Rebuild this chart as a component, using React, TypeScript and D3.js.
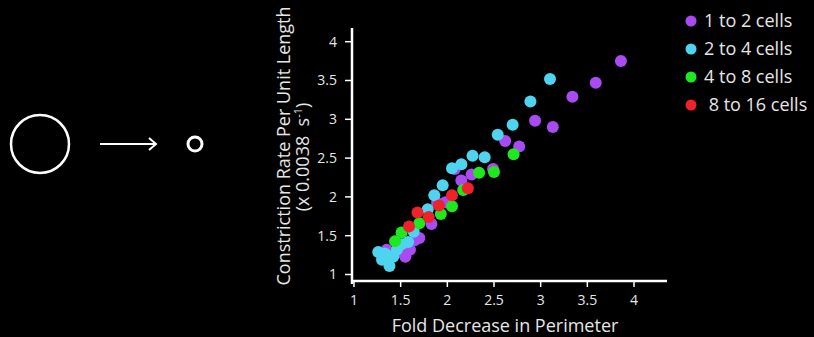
import React, { useRef, useEffect } from 'react';
import * as d3 from 'd3';

// series values: [fold decrease, constriction rate]
const oneToTwo: [number, number][] = [
  [3.86, 3.75], [3.59, 3.47], [3.34, 3.29], [2.94, 2.98], [3.13, 2.9],
  [2.62, 2.72], [2.77, 2.65], [2.49, 2.36], [2.26, 2.29], [2.08, 2.36],
  [2.15, 2.21], [1.98, 1.93], [1.89, 1.92], [1.83, 1.65], [1.7, 1.47],
  [1.65, 1.44], [1.6, 1.32], [1.55, 1.23], [1.48, 1.29], [1.35, 1.32],
];
const twoToFour: [number, number][] = [
  [3.1, 3.52], [2.89, 3.23], [2.7, 2.93], [2.54, 2.8], [2.27, 2.53],
  [2.4, 2.51], [2.15, 2.42], [2.05, 2.37], [1.95, 2.15], [1.86, 2.02],
  [1.79, 1.84], [1.64, 1.55], [1.58, 1.42], [1.51, 1.39], [1.46, 1.32],
  [1.26, 1.29], [1.37, 1.24], [1.3, 1.19], [1.38, 1.11], [1.42, 1.23],
  [1.33, 1.27],
];
const fourToEight: [number, number][] = [
  [2.71, 2.55], [2.5, 2.32], [2.34, 2.31], [2.17, 2.09], [2.05, 1.88],
  [1.93, 1.78], [1.7, 1.66], [1.51, 1.54], [1.44, 1.43],
];
const eightToSixteen: [number, number][] = [
  [2.22, 2.11], [2.05, 2.02], [1.91, 1.89], [1.68, 1.8], [1.8, 1.74], [1.59, 1.62],
];

const seriesNames = ['1 to 2 cells', '2 to 4 cells', '4 to 8 cells', ' 8 to 16 cells'];
const seriesColors = ['#a94af2', '#4fd4f0', '#1ee81e', '#ee2229'];
const seriesData = [oneToTwo, twoToFour, fourToEight, eightToSixteen];

const xTicks = [1, 1.5, 2, 2.5, 3, 3.5, 4];
const yTicks = [1, 1.5, 2, 2.5, 3, 3.5, 4];

const FONT = '"Open Sans", sans-serif';

function App() {
  const ref = useRef<SVGSVGElement>(null);

  useEffect(() => {
    const svg = d3.select(ref.current);
    svg.selectAll('*').remove();

    svg.append('rect').attr('width', 814).attr('height', 337).attr('fill', '#000');

    // left diagram: big circle -> small circle
    const diag = svg.append('g').attr('stroke', '#fff').attr('fill', 'none');
    diag.append('circle').attr('cx', 40).attr('cy', 144).attr('r', 29).attr('stroke-width', 2.5);
    diag.append('line').attr('x1', 100).attr('y1', 144).attr('x2', 156).attr('y2', 144).attr('stroke-width', 2);
    diag.append('path').attr('d', 'M149,138 L156,144 L149,150').attr('stroke-width', 2);
    diag.append('circle').attr('cx', 195).attr('cy', 144).attr('r', 7).attr('stroke-width', 3);

    const x = d3.scaleLinear().domain([1, 4]).range([354, 634]);
    const y = d3.scaleLinear().domain([1, 4]).range([274.5, 41.7]);

    // axes
    const axisY0 = 281;
    svg.append('line').attr('x1', 352).attr('x2', 667).attr('y1', axisY0).attr('y2', axisY0)
      .attr('stroke', '#fff').attr('stroke-width', 2.5);
    svg.append('line').attr('x1', 352).attr('x2', 352).attr('y1', 28).attr('y2', 284)
      .attr('stroke', '#fff').attr('stroke-width', 2.5);

    const xg = svg.append('g');
    xg.selectAll('line').data(xTicks).enter().append('line')
      .attr('x1', d => x(d)).attr('x2', d => x(d)).attr('y1', axisY0).attr('y2', axisY0 + 6)
      .attr('stroke', '#fff').attr('stroke-width', 1.5);
    xg.selectAll('text').data(xTicks).enter().append('text')
      .attr('x', d => x(d)).attr('y', 305)
      .attr('text-anchor', 'middle').attr('fill', '#e6e6e6')
      .style('font-family', FONT).style('font-size', '14px')
      .text(d => String(d));

    const yg = svg.append('g');
    yg.selectAll('line').data(yTicks).enter().append('line')
      .attr('x1', 345).attr('x2', 352).attr('y1', d => y(d)).attr('y2', d => y(d))
      .attr('stroke', '#fff').attr('stroke-width', 1.5);
    yg.selectAll('text').data(yTicks).enter().append('text')
      .attr('x', 337).attr('y', d => y(d)).attr('dy', '0.35em')
      .attr('text-anchor', 'end').attr('fill', '#e6e6e6')
      .style('font-family', FONT).style('font-size', '14px')
      .text(d => String(d));

    // axis titles
    svg.append('text')
      .attr('x', 505).attr('y', 332).attr('text-anchor', 'middle').attr('fill', '#e6e6e6')
      .style('font-family', FONT).style('font-size', '18px')
      .text('Fold Decrease in Perimeter');

    svg.append('text')
      .attr('transform', 'translate(284,146) rotate(-90)').attr('dy', '0.35em')
      .attr('text-anchor', 'middle').attr('fill', '#e6e6e6')
      .style('font-family', FONT).style('font-size', '18px')
      .text('Constriction Rate Per Unit Length');

    const sub = svg.append('text')
      .attr('transform', 'translate(303,157) rotate(-90)').attr('dy', '0.35em')
      .attr('text-anchor', 'middle').attr('fill', '#e6e6e6')
      .style('white-space', 'pre')
      .style('font-family', FONT).style('font-size', '18px');
    sub.append('tspan').text('(x 0.0038  s');
    sub.append('tspan').attr('dy', -7).style('font-size', '11px').text('-1');
    sub.append('tspan').attr('dy', 7).text(')');

    // points
    seriesData.forEach((data, i) => {
      svg.append('g').selectAll('circle').data(data).enter().append('circle')
        .attr('cx', d => x(d[0])).attr('cy', d => y(d[1])).attr('r', 6)
        .attr('fill', seriesColors[i]);
    });

    // legend
    const leg = svg.append('g');
    seriesNames.forEach((name, i) => {
      const ly = 21 + i * 28;
      leg.append('circle').attr('cx', 691).attr('cy', ly).attr('r', 5.5).attr('fill', seriesColors[i]);
      leg.append('text').attr('x', 704).attr('y', ly).attr('dy', '0.35em')
        .attr('fill', '#e6e6e6')
        .style('white-space', 'pre')
        .style('font-family', FONT).style('font-size', '18px')
        .text(name);
    });
  }, []);

  return (
    <div style={{ position: 'absolute', left: 0, top: 0, width: 814, height: 337, background: '#000' }}>
      <svg ref={ref} width={814} height={337} style={{ display: 'block' }} />
    </div>
  );
}

export default App;
